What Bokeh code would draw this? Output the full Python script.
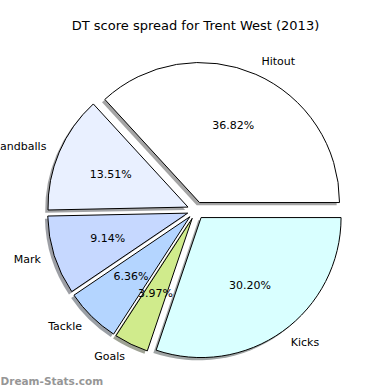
import math
from bokeh.plotting import figure
from bokeh.models import Range1d
from bokeh.embed import file_html
from bokeh.resources import INLINE
from bokeh.core.properties import value

# Data
labels = ["Hitout", "Handballs", "Mark", "Tackle", "Goals", "Kicks"]
pcts = [36.82, 13.51, 9.14, 6.36, 3.97, 30.20]
colors = ["#ffffff", "#e9f0ff", "#c6d8ff", "#b4d5ff", "#d0eb8c", "#d9ffff"]
title = "DT score spread for Trent West (2013)"
watermark = "Dream-Stats.com"

# Layout (data units == screen pixels; y up, screen_y = 390 - y)
W = 390
CX, CY, R = 195.5, 180.0, 140.0
EXP = 8.7
SH = 2.8
FONT = value("DejaVu Sans")

p = figure(width=W, height=W, x_range=Range1d(0, W), y_range=Range1d(0, W),
           output_backend="svg", toolbar_location=None, min_border=0,
           x_axis_location=None, y_axis_location=None)
p.outline_line_color = None
p.xgrid.visible = False
p.ygrid.visible = False

total = sum(pcts)
starts, ends, mids = [], [], []
a = 0.0
for v in pcts:
    da = 2 * math.pi * v / total
    starts.append(a)
    ends.append(a + da)
    mids.append(a + da / 2)
    a += da

xs = [CX + EXP * math.cos(m) for m in mids]
ys = [CY + EXP * math.sin(m) for m in mids]

shadow_cols = []
for c in colors:
    r, g, b = int(c[1:3], 16), int(c[3:5], 16), int(c[5:7], 16)
    shadow_cols.append("#%02x%02x%02x" % (int(r * 0.3), int(g * 0.3), int(b * 0.3)))
p.wedge(x=[x - SH for x in xs], y=[y - SH for y in ys], radius=R,
        start_angle=starts, end_angle=ends, direction="anticlock",
        fill_color=shadow_cols, fill_alpha=0.5, line_color=None)

# wedges
p.wedge(x=xs, y=ys, radius=R, start_angle=starts, end_angle=ends,
        direction="anticlock", fill_color=colors, line_color="black", line_width=1)

# labels
for i, (lab, m) in enumerate(zip(labels, mids)):
    lx = xs[i] + 1.1 * R * math.cos(m)
    ly = ys[i] + 1.1 * R * math.sin(m)
    align = "left" if math.cos(m) > 0 else "right"
    p.text(x=[lx], y=[ly], text=[lab], text_font=FONT, text_font_size="11px",
           text_align=align, text_baseline="middle", text_color="black")
    px = xs[i] + 0.6 * R * math.cos(m)
    py = ys[i] + 0.6 * R * math.sin(m)
    p.text(x=[px], y=[py], text=["%.2f%%" % pcts[i]], text_font=FONT,
           text_font_size="11px", text_align="center", text_baseline="middle",
           text_color="black")

p.text(x=[195], y=[W - 25], text=[title], text_font=FONT, text_font_size="13px",
       text_align="center", text_baseline="middle", text_color="black")
p.text(x=[0], y=[W - 380], text=[watermark], text_font=FONT, text_font_size="10.5px",
       text_font_style="bold", text_align="left", text_baseline="middle",
       text_color="#969696")

open("out.html", "w").write(file_html(p, INLINE))
